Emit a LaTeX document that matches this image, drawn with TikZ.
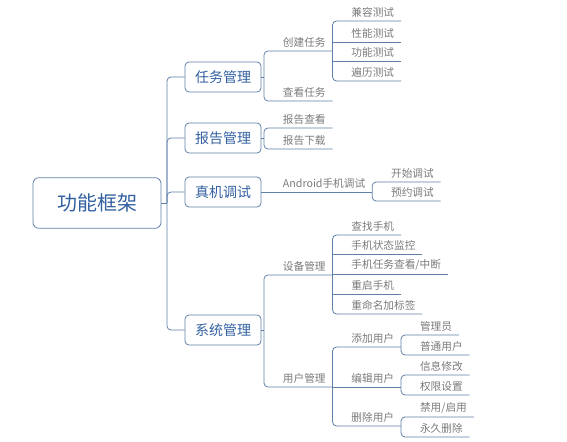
\documentclass[tikz,border=0pt]{standalone}
\usepackage{fontspec}
\setmainfont{Noto Sans CJK SC}
\definecolor{LineBlue}{RGB}{96,128,170}
\definecolor{TitleBlue}{RGB}{50,96,160}
\definecolor{LeafGray}{RGB}{122,122,122}

\begin{document}
\begin{tikzpicture}[x=0.75pt,y=-0.75pt,
    link/.style={draw=LineBlue,line width=0.6pt,rounded corners=3pt},
    rootbox/.style={draw=LineBlue,line width=0.6pt,rounded corners=4.5pt,minimum width=96pt,
                    minimum height=38pt,font=\fontsize{15}{18}\selectfont,text=TitleBlue},
    mainbox/.style={draw=LineBlue,line width=0.6pt,rounded corners=3pt,minimum width=57pt,
                    minimum height=22.5pt,font=\fontsize{10.5}{12}\selectfont,text=TitleBlue},
    topic/.style={anchor=south west,inner xsep=0pt,inner ysep=2.5pt,
                  font=\fontsize{8}{10}\selectfont,text=LeafGray,
                  execute at begin node={\hspace*{14pt}},execute at end node={\hspace*{5pt}}}]
  \useasboundingbox (0,0) rectangle (567,442);

  \node[rootbox] (root) at (97,203) {功能框架};
  \coordinate (trunk) at (167,203);

  \node[mainbox] (task)   at (223,77)  {任务管理};
  \node[mainbox] (report) at (223,138) {报告管理};
  \node[mainbox] (debug)  at (223,192) {真机调试};
  \node[mainbox] (sys)    at (223,330) {系统管理};

  \node[topic] (create)  at (264,51)  {创建任务};
  \node[topic] (view)    at (264,101) {查看任务};
  \node[topic] (rview)   at (264,128) {报告查看};
  \node[topic] (rdown)   at (264,149) {报告下载};
  \node[topic] (android) at (264,192) {Android手机调试};
  \node[topic] (dev)     at (264,275) {设备管理};
  \node[topic] (user)    at (264,387) {用户管理};

  \node[topic] (compat) at (create.south east |- 0,21) {兼容测试};
  \node[topic] (perf)   at (create.south east |- 0,42) {性能测试};
  \node[topic] (func)   at (create.south east |- 0,61) {功能测试};
  \node[topic] (trav)   at (create.south east |- 0,81) {遍历测试};

  \node[topic] (start) at (android.south east |- 0,182) {开始调试};
  \node[topic] (book)  at (android.south east |- 0,201) {预约调试};

  \node[topic] (find)   at (dev.south east |- 0,235) {查找手机};
  \node[topic] (mon)    at (dev.south east |- 0,254) {手机状态监控};
  \node[topic] (tasks)  at (dev.south east |- 0,274) {手机任务查看/中断};
  \node[topic] (reboot) at (dev.south east |- 0,294) {重启手机};
  \node[topic] (rename) at (dev.south east |- 0,314) {重命名加标签};

  \node[topic] (add)  at (user.south east |- 0,347) {添加用户};
  \node[topic] (edit) at (user.south east |- 0,387) {编辑用户};
  \node[topic] (del)  at (user.south east |- 0,426) {删除用户};

  \node[topic] (admin)  at (add.south east |- 0,335)  {管理员};
  \node[topic] (normal) at (add.south east |- 0,355)  {普通用户};
  \node[topic] (info)   at (edit.south east |- 0,375) {信息修改};
  \node[topic] (perm)   at (edit.south east |- 0,395) {权限设置};
  \node[topic] (ban)    at (del.south east |- 0,417)  {禁用/启用};
  \node[topic] (purge)  at (del.south east |- 0,437)  {永久删除};

  \draw[link] (root.east) -- (trunk);
  \draw[link] (task.west) -| (trunk) |- (sys.west);
  \draw[link] (trunk) |- (report.west);
  \draw[link] (trunk) |- (debug.west);

  \draw[link] (task.east) -- (create.south west |- task.east);
  \draw[link] (create.south east) -- (create.south west) -- (view.south west) -- (view.south east);
  \draw[link] (compat.south east) -- (compat.south west) -- (trav.south west) -- (trav.south east);
  \draw[link] (perf.south west) -- (perf.south east);
  \draw[link] (func.south west) -- (func.south east);

  \draw[link] (report.east) -- (rview.south west |- report.east);
  \draw[link] (rview.south east) -- (rview.south west) -- (rdown.south west) -- (rdown.south east);

  \draw[link] (debug.east) -- (android.south east);
  \draw[link] (start.south east) -- (start.south west) -- (book.south west) -- (book.south east);

  \draw[link] (sys.east) -- (dev.south west |- sys.east);
  \draw[link] (dev.south east) -- (dev.south west) -- (user.south west) -- (user.south east);
  \draw[link] (find.south east) -- (find.south west) -- (rename.south west) -- (rename.south east);
  \draw[link] (mon.south west) -- (mon.south east);
  \draw[link] (tasks.south west) -- (tasks.south east);
  \draw[link] (reboot.south west) -- (reboot.south east);
  \draw[link] (add.south east) -- (add.south west) -- (del.south west) -- (del.south east);
  \draw[link] (edit.south west) -- (edit.south east);
  \draw[link] (admin.south east) -- (admin.south west) -- (normal.south west) -- (normal.south east);
  \draw[link] (info.south east) -- (info.south west) -- (perm.south west) -- (perm.south east);
  \draw[link] (ban.south east) -- (ban.south west) -- (purge.south west) -- (purge.south east);
\end{tikzpicture}
\end{document}
